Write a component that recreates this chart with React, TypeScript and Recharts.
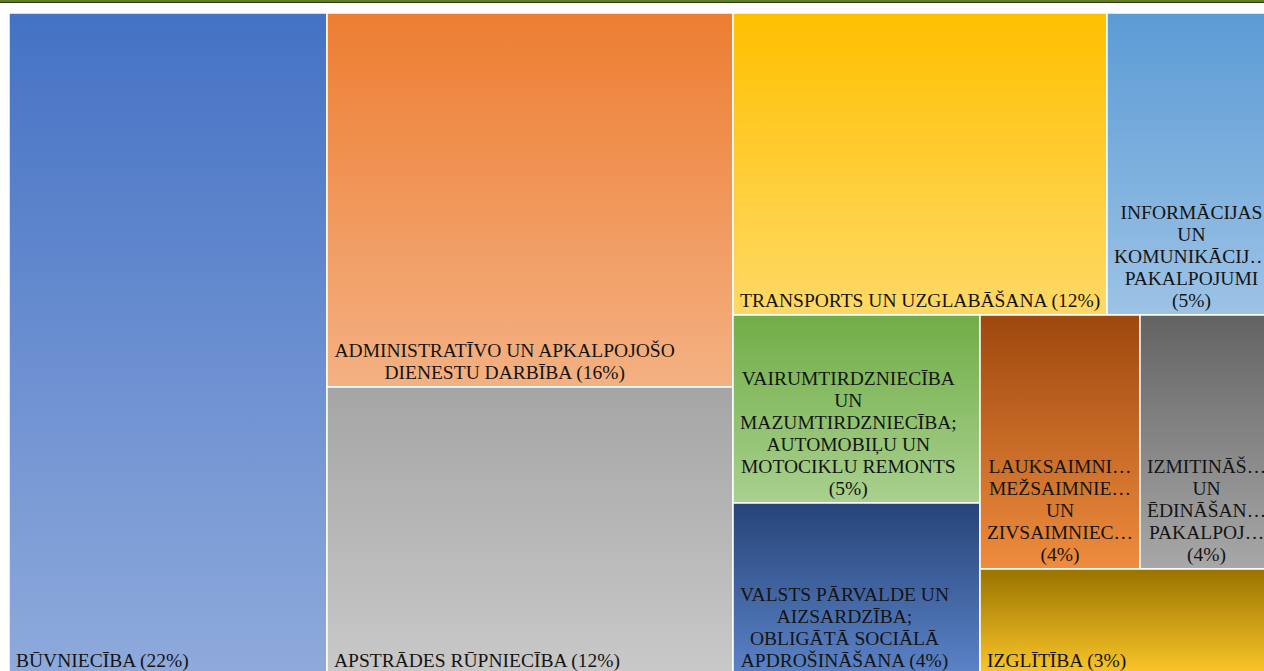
import React from 'react';
import { Treemap } from 'recharts';

// sectors, as labelled in the source chart
const categories = [
  'BŪVNIECĪBA',
  'ADMINISTRATĪVO UN APKALPOJOŠO DIENESTU DARBĪBA',
  'APSTRĀDES RŪPNIECĪBA',
  'TRANSPORTS UN UZGLABĀŠANA',
  'INFORMĀCIJAS UN KOMUNIKĀCIJU PAKALPOJUMI',
  'VAIRUMTIRDZNIECĪBA UN MAZUMTIRDZNIECĪBA; AUTOMOBIĻU UN MOTOCIKLU REMONTS',
  'VALSTS PĀRVALDE UN AIZSARDZĪBA; OBLIGĀTĀ SOCIĀLĀ APDROŠINĀŠANA',
  'LAUKSAIMNIECĪBA, MEŽSAIMNIECĪBA UN ZIVSAIMNIECĪBA',
  'IZMITINĀŠANA UN ĒDINĀŠANAS PAKALPOJUMI',
  'IZGLĪTĪBA',
];

// share of total (%)
const shares = [21.8, 15.7, 12.1, 11.7, 5.4, 4.8, 4.4, 4.2, 3.7, 3.3];

// label text as it is wrapped / cut in the picture
const labelLines = [
  ['BŪVNIECĪBA (22%)'],
  ['ADMINISTRATĪVO UN APKALPOJOŠO', 'DIENESTU DARBĪBA (16%)'],
  ['APSTRĀDES RŪPNIECĪBA (12%)'],
  ['TRANSPORTS UN UZGLABĀŠANA (12%)'],
  ['INFORMĀCIJAS', 'UN', 'KOMUNIKĀCIJ…', 'PAKALPOJUMI', '(5%)'],
  ['VAIRUMTIRDZNIECĪBA', 'UN', 'MAZUMTIRDZNIECĪBA;', 'AUTOMOBIĻU UN', 'MOTOCIKLU REMONTS', '(5%)'],
  ['VALSTS PĀRVALDE UN', 'AIZSARDZĪBA;', 'OBLIGĀTĀ SOCIĀLĀ', 'APDROŠINĀŠANA (4%)'],
  ['LAUKSAIMNI…', 'MEŽSAIMNIE…', 'UN', 'ZIVSAIMNIEC…', '(4%)'],
  ['IZMITINĀŠ…', 'UN', 'ĒDINĀŠAN…', 'PAKALPOJ…', '(4%)'],
  ['IZGLĪTĪBA (3%)'],
];

const data = categories.map((name, i) => ({ name, value: shares[i] }));

const topColors = ['#4472C4', '#ED7D31', '#A5A5A5', '#FFC000', '#5B9BD5', '#70AD47', '#264478', '#9E480E', '#636363', '#997300'];
const bottomColors = ['#8FAADC', '#F4B183', '#C9C9C9', '#FFD966', '#9DC3E6', '#A9D18E', '#5B83C8', '#EF8C3E', '#A8A8A8', '#FCC72A'];

const FONT = "'Liberation Serif', 'Times New Roman', serif";
const FONT_SIZE = 19.5;
const LINE_H = 22;
const PAD = 7;

let ctx: CanvasRenderingContext2D | null = null;
const textWidth = (s: string) => {
  if (!ctx) {
    ctx = document.createElement('canvas').getContext('2d');
  }
  if (!ctx) return s.length * 11;
  ctx.font = `${FONT_SIZE}px ${FONT}`;
  return ctx.measureText(s).width;
};

const Cell = (props: any) => {
  const { x, y, width, height, depth, name } = props;
  if (depth !== 1) return <g />;
  const i = categories.indexOf(name);
  const lines = labelLines[i] || [];
  const gid = `cell-grad-${i}`;
  const baseY = y + height - 8.5;
  let tx = x + PAD;
  let anchor: 'start' | 'middle' = 'start';
  if (lines.length > 1) {
    const w = Math.min(Math.max(...lines.map(textWidth)), width - 2 * PAD);
    tx = x + PAD + w / 2;
    anchor = 'middle';
  }
  return (
    <g>
      <defs>
        <linearGradient id={gid} x1="0" y1="0" x2="0" y2="1">
          <stop offset="0%" stopColor={topColors[i]} />
          <stop offset="100%" stopColor={bottomColors[i]} />
        </linearGradient>
      </defs>
      <rect x={x} y={y} width={width} height={height} fill={`url(#${gid})`} stroke="#fff" strokeWidth={1.5} />
      <text fontFamily={FONT} fontSize={FONT_SIZE} fill="#141414" textAnchor={anchor}>
        {lines.map((l, k) => (
          <tspan key={k} x={tx} y={baseY - (lines.length - 1 - k) * LINE_H}>{l}</tspan>
        ))}
      </text>
    </g>
  );
};

export default function App() {
  return (
    <div style={{ position: 'fixed', left: 0, top: 0, width: 1264, height: 671, overflow: 'hidden', background: '#fff' }}>
      <div style={{ position: 'absolute', left: 0, top: 0, width: 1264, height: 2, background: '#5E7B22' }} />
      <div style={{ position: 'absolute', left: 0, top: 2, width: 1264, height: 1, background: '#2E3A14' }} />
      <div style={{ position: 'absolute', left: 9, top: 13 }}>
        <Treemap
          width={1271}
          height={662}
          data={data}
          dataKey="value"
          nameKey="name"
          aspectRatio={0.94}
          isAnimationActive={false}
          content={<Cell />}
        />
      </div>
    </div>
  );
}
